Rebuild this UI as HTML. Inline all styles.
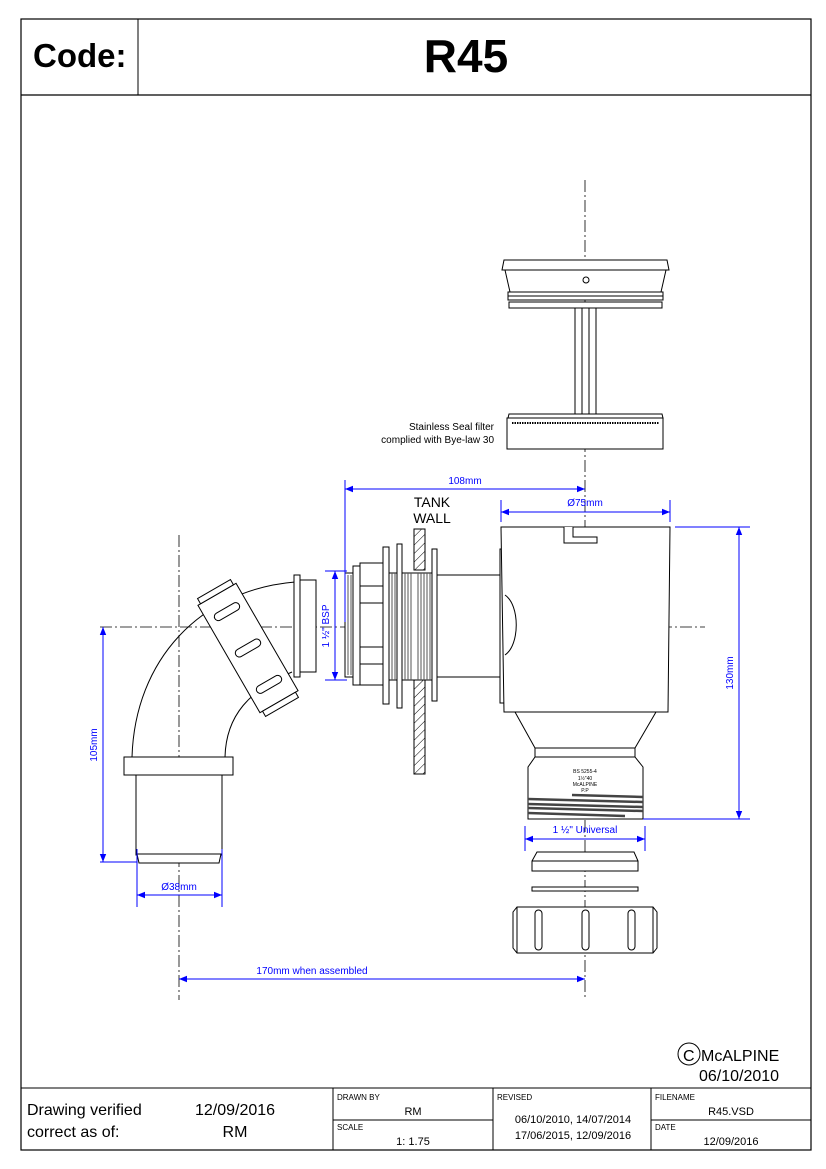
<!DOCTYPE html>
<html><head><meta charset="utf-8"><style>
html,body{margin:0;padding:0;background:#fff}
svg{display:block}
text{font-family:"Liberation Sans",Arial,sans-serif}
</style></head><body>
<svg width="826" height="1169" viewBox="0 0 826 1169" xmlns="http://www.w3.org/2000/svg">
<defs>
<pattern id="hatch" width="6" height="6" patternUnits="userSpaceOnUse" patternTransform="rotate(45)">
<line x1="0" y1="0" x2="0" y2="6" stroke="#000" stroke-width="1"/>
</pattern>
<marker id="ar" viewBox="0 0 10 10" refX="10" refY="5" markerWidth="10" markerHeight="8" orient="auto-start-reverse" markerUnits="userSpaceOnUse">
<path d="M0,1 L10,5 L0,9 z" fill="#00f"/>
</marker>
</defs>
<!-- frame -->
<rect x="21" y="19" width="790" height="1131" fill="none" stroke="#000" stroke-width="1.2"/>
<line x1="21" y1="95" x2="811" y2="95" stroke="#000" stroke-width="1.2"/>
<line x1="138" y1="19" x2="138" y2="95" stroke="#000" stroke-width="1"/>
<text x="33" y="67" font-size="33" font-weight="bold">Code:</text>
<text x="466" y="72" font-size="46" font-weight="bold" text-anchor="middle">R45</text>

<!-- footer -->
<g stroke="#000" stroke-width="1" fill="none">
<line x1="21" y1="1088" x2="811" y2="1088"/>
<line x1="333" y1="1088" x2="333" y2="1150"/>
<line x1="493" y1="1088" x2="493" y2="1150"/>
<line x1="651" y1="1088" x2="651" y2="1150"/>
<line x1="333" y1="1120" x2="493" y2="1120"/>
<line x1="651" y1="1120" x2="811" y2="1120"/>
<circle cx="689" cy="1054" r="11"/>
</g>
<text x="683" y="1061" font-size="16">C</text>
<text x="701" y="1061" font-size="16">McALPINE</text>
<text x="699" y="1081" font-size="16">06/10/2010</text>
<text x="27" y="1115" font-size="16">Drawing verified</text>
<text x="27" y="1137" font-size="16">correct as of:</text>
<text x="235" y="1115" font-size="16" text-anchor="middle">12/09/2016</text>
<text x="235" y="1137" font-size="16" text-anchor="middle">RM</text>
<text x="337" y="1100" font-size="8">DRAWN BY</text>
<text x="413" y="1115" font-size="11" text-anchor="middle">RM</text>
<text x="337" y="1130" font-size="8">SCALE</text>
<text x="413" y="1145" font-size="11" text-anchor="middle">1: 1.75</text>
<text x="497" y="1100" font-size="8">REVISED</text>
<text x="573" y="1123" font-size="11" text-anchor="middle">06/10/2010, 14/07/2014</text>
<text x="573" y="1139" font-size="11" text-anchor="middle">17/06/2015, 12/09/2016</text>
<text x="655" y="1100" font-size="8">FILENAME</text>
<text x="731" y="1115" font-size="11" text-anchor="middle">R45.VSD</text>
<text x="655" y="1130" font-size="8">DATE</text>
<text x="731" y="1145" font-size="11" text-anchor="middle">12/09/2016</text>

<!-- center lines -->
<g stroke="#000" stroke-width="0.8" stroke-dasharray="12,3,2,3" fill="none">
<line x1="585" y1="180" x2="585" y2="1000"/>
<line x1="179" y1="535" x2="179" y2="1000"/>
<line x1="100" y1="627" x2="705" y2="627"/>
</g>

<g stroke="#000" stroke-width="1" fill="#fff">
<!-- filter top -->
<path d="M504,260 L667,260 L669,270 L502,270 Z"/>
<path d="M505,270 L666,270 L661,292 L510,292 Z"/>
<rect x="508" y="292" width="155" height="4"/>
<rect x="508" y="296" width="155" height="4"/>
<rect x="509" y="302" width="153" height="6"/>
<circle cx="586" cy="280" r="3"/>
<rect x="575" y="308" width="21" height="106"/>
<line x1="582" y1="308" x2="582" y2="414"/>
<line x1="589" y1="308" x2="589" y2="414"/>
<path d="M509,414 L662,414 L663,418 L508,418 Z"/>
<rect x="507" y="418" width="156" height="31"/>
</g>
<line x1="512" y1="423" x2="659" y2="423" stroke="#000" stroke-width="2" stroke-dasharray="1.5,1"/>
<text x="494" y="430" font-size="10" text-anchor="end">Stainless Seal filter</text>
<text x="494" y="443" font-size="10" text-anchor="end">complied with Bye-law 30</text>

<!-- elbow -->
<g stroke="#000" stroke-width="1" fill="none">
<path d="M132,757 C135,660 200,590 295,582"/>
<path d="M225,757 C226,715 250,690 292,672"/>
</g>
<g stroke="#000" stroke-width="1" fill="#fff">
<rect x="124" y="757" width="109" height="18"/>
<rect x="136" y="775" width="86" height="80"/>
<path d="M137,854 L221,854 L219,863 L139,863 Z"/>
<rect x="294" y="575" width="6" height="102"/>
<rect x="300" y="580" width="16" height="92"/>
<g transform="translate(248,648) rotate(-30)">
<rect x="-22" y="-62" width="44" height="124"/>
<rect x="-19" y="-68" width="38" height="6"/>
<rect x="-19" y="62" width="38" height="6"/>
<rect x="-14" y="-46" width="28" height="8" rx="4"/>
<rect x="-14" y="-4" width="28" height="8" rx="4"/>
<rect x="-14" y="38" width="28" height="8" rx="4"/>
</g>
</g>

<!-- back nut assembly -->
<g stroke="#000" stroke-width="1" fill="#fff">
<rect x="437" y="575" width="63" height="102"/>
<rect x="345" y="573" width="8" height="104"/>
<rect x="353" y="566" width="7" height="119"/>
<rect x="360" y="563" width="23" height="122"/>
<line x1="360" y1="586" x2="383" y2="586"/>
<line x1="360" y1="603" x2="383" y2="603"/>
<line x1="360" y1="647" x2="383" y2="647"/>
<line x1="360" y1="664" x2="383" y2="664"/>
<rect x="383" y="547" width="6" height="157"/>
<rect x="389" y="573" width="43" height="107"/>
<rect x="397" y="544" width="5" height="164"/>
<rect x="414" y="529" width="11" height="41" fill="url(#hatch)"/>
<rect x="414" y="680" width="11" height="94" fill="url(#hatch)"/>
<rect x="432" y="549" width="5" height="152"/>
<rect x="500" y="549" width="5" height="154"/>
</g>
<g stroke="#555" stroke-width="1">
<line x1="392" y1="573" x2="392" y2="680"/><line x1="395" y1="573" x2="395" y2="680"/>
<line x1="405" y1="573" x2="405" y2="680"/><line x1="408" y1="573" x2="408" y2="680"/>
<line x1="411" y1="573" x2="411" y2="680"/><line x1="418" y1="573" x2="418" y2="680"/>
<line x1="421" y1="573" x2="421" y2="680"/><line x1="424" y1="573" x2="424" y2="680"/>
<line x1="427" y1="573" x2="427" y2="680"/><line x1="430" y1="573" x2="430" y2="680"/>
<line x1="348" y1="575" x2="348" y2="675"/><line x1="351" y1="575" x2="351" y2="675"/>
</g>
<text x="432" y="507" font-size="14" text-anchor="middle">TANK</text>
<text x="432" y="523" font-size="14" text-anchor="middle">WALL</text>

<!-- outlet body -->
<g stroke="#000" stroke-width="1" fill="#fff">
<path d="M501,527 L670,527 L668,712 L504,712 Z"/>
<path d="M504,712 L668,712 L656,712 L635,748 L535,748 L515,712 Z"/>
<rect x="535" y="748" width="100" height="9"/>
<path d="M535,757 L635,757 L643,767 L643,819 L528,819 L528,767 Z"/>
</g>
<path d="M564,527 L564,543 L597,543 L597,537 L573,537 L573,527" stroke="#000" fill="#fff" stroke-width="1"/>
<path d="M505,595 C520,605 520,645 505,655" stroke="#000" fill="none" stroke-width="1"/>
<g stroke="#444" stroke-width="2.5" fill="none">
<line x1="572" y1="795" x2="643" y2="797"/>
<line x1="528" y1="799" x2="643" y2="802"/>
<line x1="528" y1="804" x2="643" y2="807"/>
<line x1="528" y1="808" x2="643" y2="811"/>
<line x1="528" y1="813" x2="625" y2="816"/>
</g>
<g font-size="5" text-anchor="middle">
<text x="585" y="773">BS 5255-4</text>
<text x="585" y="780">1½"40</text>
<text x="585" y="786">McALPINE</text>
<text x="585" y="792">P.P</text>
</g>

<!-- lower parts -->
<g stroke="#000" stroke-width="1" fill="#fff">
<path d="M537,852 L634,852 L638,861 L638,871 L532,871 L532,861 Z"/>
<line x1="532" y1="861" x2="638" y2="861"/>
<rect x="532" y="887" width="106" height="4"/>
<path d="M517,907 L653,907 L657,912 L657,948 L653,953 L517,953 L513,948 L513,912 Z"/>
<line x1="517" y1="907" x2="517" y2="953"/>
<line x1="653" y1="907" x2="653" y2="953"/>
<rect x="535" y="910" width="7" height="40" rx="3.5"/>
<rect x="582" y="910" width="7" height="40" rx="3.5"/>
<rect x="628" y="910" width="7" height="40" rx="3.5"/>
</g>

<!-- dimensions -->
<g stroke="#00f" stroke-width="1" fill="none">
<line x1="345" y1="480" x2="345" y2="622"/>
<line x1="345" y1="489" x2="585" y2="489" marker-start="url(#ar)" marker-end="url(#ar)"/>
<line x1="501" y1="500" x2="501" y2="522"/>
<line x1="670" y1="500" x2="670" y2="522"/>
<line x1="501" y1="512" x2="670" y2="512" marker-start="url(#ar)" marker-end="url(#ar)"/>
<line x1="325" y1="571" x2="347" y2="571"/>
<line x1="325" y1="680" x2="347" y2="680"/>
<line x1="335" y1="571" x2="335" y2="680" marker-start="url(#ar)" marker-end="url(#ar)"/>
<line x1="675" y1="527" x2="750" y2="527"/>
<line x1="643" y1="819" x2="750" y2="819"/>
<line x1="739" y1="527" x2="739" y2="819" marker-start="url(#ar)" marker-end="url(#ar)"/>
<line x1="525" y1="826" x2="525" y2="851"/>
<line x1="645" y1="826" x2="645" y2="851"/>
<line x1="525" y1="839" x2="645" y2="839" marker-start="url(#ar)" marker-end="url(#ar)"/>
<line x1="137" y1="849" x2="137" y2="907"/>
<line x1="222" y1="849" x2="222" y2="907"/>
<line x1="137" y1="895" x2="222" y2="895" marker-start="url(#ar)" marker-end="url(#ar)"/>
<line x1="100" y1="862" x2="137" y2="862"/>
<line x1="103" y1="627" x2="103" y2="862" marker-start="url(#ar)" marker-end="url(#ar)"/>
<line x1="179" y1="979" x2="585" y2="979" marker-start="url(#ar)" marker-end="url(#ar)"/>
</g>
<g fill="#00f" font-size="10" text-anchor="middle">
<text x="465" y="484">108mm</text>
<text x="585" y="506">Ø75mm</text>
<text x="585" y="833">1 ½" Universal</text>
<text x="179" y="890">Ø38mm</text>
<text x="312" y="974">170mm when assembled</text>
<text transform="translate(329,626) rotate(-90)">1 ½" BSP</text>
<text transform="translate(733,673) rotate(-90)">130mm</text>
<text transform="translate(97,745) rotate(-90)">105mm</text>
</g>
</svg>
</body></html>
